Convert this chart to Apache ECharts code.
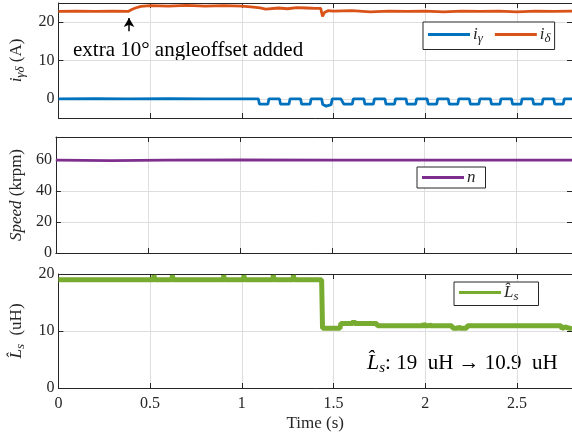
<!DOCTYPE html>
<html><head><meta charset="utf-8">
<script src="https://cdn.jsdelivr.net/npm/echarts@6/dist/echarts.min.js"></script>
<style>html,body{margin:0;padding:0;background:#fff}#c{width:572px;height:438px}</style>
</head><body><div id="c"></div><script>
// ---- data ----
const xTicks = [0, 0.5, 1, 1.5, 2, 2.5];
const currentTicks = [0, 10, 20];
const speedTicks = [0, 20, 40, 60];
const inductTicks = [0, 10, 20];

const iGamma = [
  [0,0],[0.2,0.05],[0.37,0],[0.38,0.4],[0.39,0],[0.6,0.05],[0.8,0],[1.09,0],
  [1.096,-1.4],[1.142,-1.4],[1.148,0],
  [1.205,0],[1.211,-1.4],[1.257,-1.4],[1.263,0],
  [1.320,0],[1.326,-1.4],[1.372,-1.4],[1.378,0],
  [1.435,0],[1.441,-1.5],[1.46,-1.9],[1.487,-1.5],[1.493,0],
  [1.540,0],[1.547,0.5],[1.550,0],[1.556,-1.4],[1.602,-1.4],[1.608,0],
  [1.665,0],[1.671,-1.4],[1.717,-1.4],[1.723,0],
  [1.780,0],[1.786,-1.4],[1.832,-1.4],[1.838,0],
  [1.895,0],[1.901,-1.4],[1.947,-1.4],[1.953,0],
  [2.010,0],[2.016,-1.4],[2.062,-1.4],[2.068,0],
  [2.125,0],[2.131,-1.4],[2.177,-1.4],[2.183,0],
  [2.240,0],[2.246,-1.4],[2.292,-1.4],[2.298,0],
  [2.355,0],[2.361,-1.4],[2.407,-1.4],[2.413,0],
  [2.470,0],[2.476,-1.4],[2.522,-1.4],[2.528,0],
  [2.585,0],[2.591,-1.4],[2.637,-1.4],[2.643,0],
  [2.700,0],[2.706,-1.4],[2.752,-1.4],[2.758,0],[2.8,0]
];
const iDelta = [
  [0,22.8],[0.1,22.9],[0.2,22.8],[0.3,22.9],[0.38,22.8],[0.40,23.3],[0.42,23.7],
  [0.45,24.1],[0.5,24.3],[0.6,24.2],[0.7,24.4],[0.8,24.2],[0.9,24.3],[1.0,24.2],
  [1.05,24.0],[1.1,23.7],[1.13,23.4],[1.2,23.7],[1.25,23.5],[1.3,23.8],[1.35,23.7],
  [1.4,23.6],[1.43,23.6],[1.44,21.5],[1.45,22.5],[1.47,23.0],[1.5,22.9],[1.6,23.0],
  [1.7,22.7],[1.8,22.9],[1.9,22.8],[2.0,22.9],[2.1,22.7],[2.2,22.9],[2.3,22.8],
  [2.4,22.9],[2.5,22.7],[2.6,22.9],[2.7,22.8],[2.8,22.9]
];
const speed = [[0,60],[0.3,59.7],[0.6,60],[1.0,60.2],[1.5,60],[2.0,60.1],[2.8,60]];
const lsHat = [
  [0,19],[0.52,19],[0.521,19.8],[0.526,19],[0.62,19],[0.621,19.8],[0.626,19],
  [0.9,19],[0.901,19.8],[0.906,19],[1.01,19],[1.011,19.8],[1.016,19],
  [1.17,19],[1.171,19.8],[1.176,19],[1.28,19],[1.281,19.8],[1.286,19],[1.435,19],
  [1.44,10.5],[1.535,10.5],[1.54,11.3],[1.605,11.3],[1.61,11.8],[1.615,11.3],
  [1.735,11.3],[1.74,10.9],[1.99,10.9],[1.992,11.4],[1.997,10.9],[2.02,10.9],[2.022,11.3],[2.027,10.9],
  [2.145,10.9],[2.15,10.5],[2.18,10.5],[2.182,10.9],[2.187,10.5],[2.225,10.5],[2.23,10.9],
  [2.66,10.9],[2.665,10.6],[2.70,10.9],[2.74,10.9],[2.745,10.4],[2.76,10.7],[2.765,10.4],[2.8,10.4]
];
const arrowAnno = [[0.385,17.6],[0.385,21.1]];

// ---- styles ----
const AX = '#262626', GRID = '#dedede', FONT = '"Liberation Serif", "Times New Roman", serif';
const C_BLUE = '#0072BD', C_ORANGE = '#D95319', C_PURPLE = '#7E2F8E', C_GREEN = '#77AC30';
const rich = {
  it: {fontFamily: FONT, fontStyle: 'italic', fontSize: 17, lineHeight: 22, verticalAlign: 'middle', color: AX},
  sub: {fontFamily: FONT, fontStyle: 'italic', fontSize: 13, lineHeight: 12, verticalAlign: 'bottom', color: AX},
  n: {fontFamily: FONT, fontSize: 17, lineHeight: 22, verticalAlign: 'middle', color: AX}
};
const tickRich = {v: {fontFamily: FONT, fontSize: 16, color: AX}};
const tickFmt = function (val) { return '{v|' + val + '}'; };

const grids = [
  {left: 55, right: 0, top: 3, height: 115},
  {left: 55, right: 0, top: 137, height: 116},
  {left: 55, right: 0, top: 274, height: 114}
];
function xAx(gi, pos, showLabel) {
  return {
    type: 'value', gridIndex: gi, position: pos, min: 0, max: 2.8,
    axisLine: {show: true, onZero: false, lineStyle: {color: AX, width: 1}},
    axisTick: {show: true, inside: true, length: 5, customValues: xTicks, lineStyle: {color: AX}},
    axisLabel: {show: showLabel, customValues: xTicks, margin: 8, color: AX, fontFamily: FONT, fontSize: 16, formatter: tickFmt, rich: tickRich},
    splitLine: {show: pos === 'bottom', lineStyle: {color: GRID, width: 1}},
    name: (showLabel && pos === 'bottom') ? 'Time (s)' : '',
    nameLocation: 'middle', nameGap: 27,
    nameTextStyle: {color: AX, fontFamily: FONT, fontSize: 17}
  };
}
function yAx(gi, pos, min, max, ticks, name, gap) {
  const left = pos === 'left';
  return {
    type: 'value', gridIndex: gi, position: pos, min: min, max: max,
    axisLine: {show: true, onZero: false, lineStyle: {color: AX, width: 1}},
    axisTick: {show: true, inside: true, length: 5, customValues: ticks, lineStyle: {color: AX}},
    axisLabel: {show: left, customValues: ticks, margin: 4, color: AX, fontFamily: FONT, fontSize: 16, formatter: tickFmt, rich: tickRich},
    splitLine: {show: left, lineStyle: {color: GRID, width: 1}},
    name: left ? name : '', nameLocation: 'middle', nameGap: gap, nameRotate: 90,
    nameTextStyle: {fontFamily: FONT, rich: rich}
  };
}

const xAxes = [xAx(0,'bottom',false), xAx(0,'top',false), xAx(1,'bottom',false), xAx(1,'top',false), xAx(2,'bottom',true), xAx(2,'top',false)];
const yAxes = [
  yAx(0,'left',-5,25,currentTicks,'{it|i}{sub|γδ}{n| (A)}',22), yAx(0,'right',-5,25,currentTicks,'',0),
  yAx(1,'left',0,75,speedTicks,'{it|Speed}{n| (krpm)}',22), yAx(1,'right',0,75,speedTicks,'',0),
  yAx(2,'left',0,20,inductTicks,'{it|L̂}{sub|s}{n|  (uH)}',25), yAx(2,'right',0,20,inductTicks,'',0)
];

function legendBox(left, top, names, pad, gap) {
  return {
    data: names, left: left, top: top, orient: 'horizontal',
    padding: pad, itemGap: gap, itemWidth: 42, itemHeight: 3, icon: 'rect',
    borderColor: AX, borderWidth: 1, backgroundColor: '#fff', borderRadius: 0,
    selectedMode: false,
    formatter: function (nm) {
      return {ig: '{it|i}{sub|γ}', id: '{it|i}{sub|δ}', n: '{it|n}', ls: '{it|L̂}{sub|s}'}[nm];
    },
    textStyle: {fontFamily: FONT, rich: rich, padding: [0, 0, 0, -2]}
  };
}

const option = {
  animation: false,
  backgroundColor: '#fff',
  textStyle: {fontFamily: FONT},
  grid: grids,
  xAxis: xAxes,
  yAxis: yAxes,
  legend: [
    legendBox(423, 22, ['ig', 'id'], [4, 4, 4, 5], 12),
    legendBox(417, 167, ['n'], [2, 10, 2, 5], 6),
    legendBox(454, 282, ['ls'], [2, 20, 2, 5], 6)
  ],
  series: [
    {name: 'ig', type: 'line', xAxisIndex: 0, yAxisIndex: 0, data: iGamma, symbol: 'none', lineStyle: {color: C_BLUE, width: 2.8}, itemStyle: {color: C_BLUE}},
    {name: 'id', type: 'line', xAxisIndex: 0, yAxisIndex: 0, data: iDelta, symbol: 'none', lineStyle: {color: C_ORANGE, width: 2.8}, itemStyle: {color: C_ORANGE},
     markLine: {silent: true, symbol: ['none', 'arrow'], symbolSize: [8, 9], label: {show: false},
       lineStyle: {color: '#000', width: 1.5, type: 'solid'},
       data: [[{coord: arrowAnno[0]}, {coord: arrowAnno[1]}]]}},
    {name: 'n', type: 'line', xAxisIndex: 2, yAxisIndex: 2, data: speed, symbol: 'none', lineStyle: {color: C_PURPLE, width: 2.8}, itemStyle: {color: C_PURPLE}},
    {name: 'ls', type: 'line', xAxisIndex: 4, yAxisIndex: 4, data: lsHat, symbol: 'none', lineStyle: {color: C_GREEN, width: 5}, itemStyle: {color: C_GREEN}}
  ],
  graphic: [
    {type: 'text', x: 73, y: 50, style: {text: 'extra 10° angleoffset added', font: '21px "Liberation Serif"', fill: '#000', verticalAlign: 'middle'}},
    {type: 'text', x: 367, y: 363, style: {text: '{it|L̂}{sub|s}{n|: 19  uH → 10.9  uH}', verticalAlign: 'middle',
      rich: {
        it: {fontFamily: FONT, fontStyle: 'italic', fontSize: 22, lineHeight: 26, verticalAlign: 'middle', color: '#000'},
        sub: {fontFamily: FONT, fontStyle: 'italic', fontSize: 15, lineHeight: 14, verticalAlign: 'bottom', color: '#000'},
        n: {fontFamily: FONT, fontSize: 21, lineHeight: 26, verticalAlign: 'middle', color: '#000'}
      }}}
  ]
};
const chart = echarts.init(document.getElementById('c'), null, {renderer: 'canvas'});
chart.setOption(option);
</script></body></html>
